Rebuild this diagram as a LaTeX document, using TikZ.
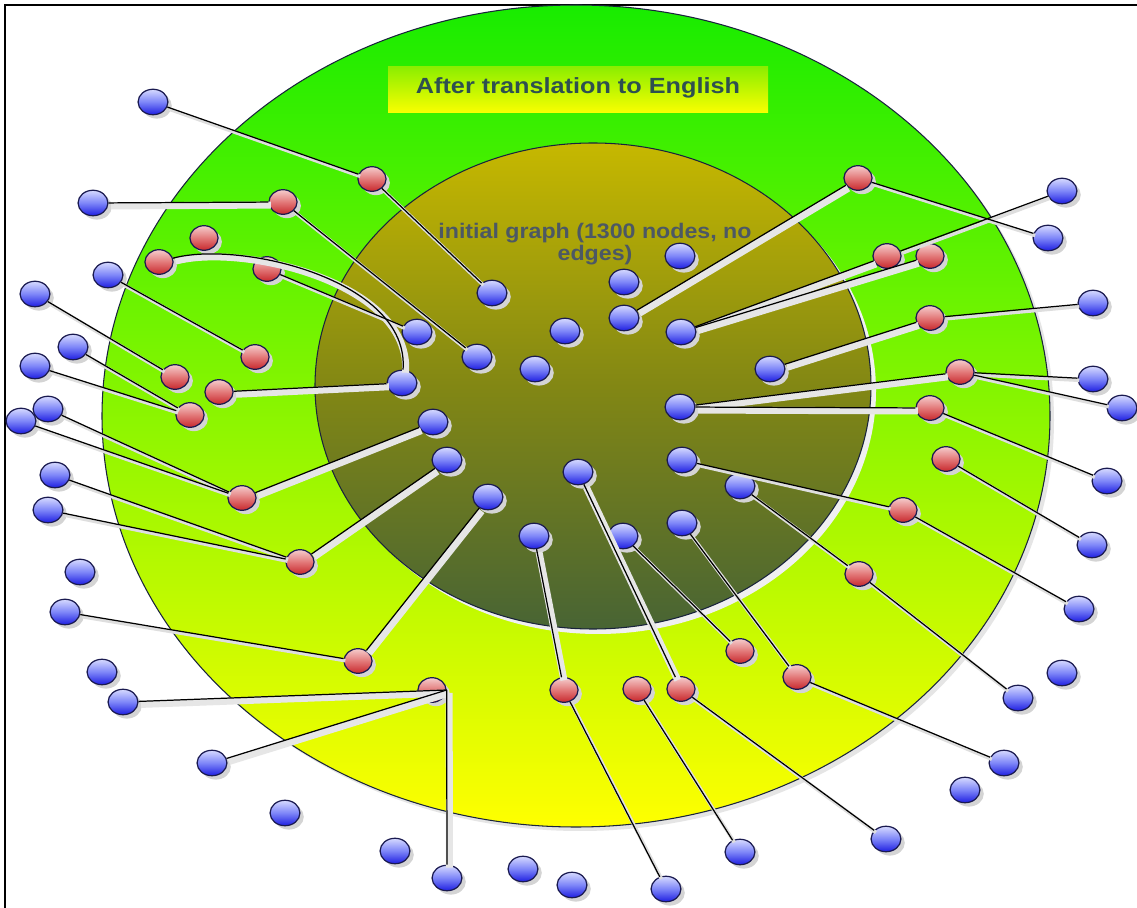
\documentclass[tikz,border=0pt]{standalone}
\usepackage{fontspec}
\usepackage{graphicx}
\setmainfont{Liberation Sans}
\usetikzlibrary{shapes.geometric,shadows}

\definecolor{ringtop}{RGB}{24,236,0}
\definecolor{ringbot}{RGB}{255,255,0}
\definecolor{coretop}{RGB}{198,184,0}
\definecolor{coremid}{RGB}{130,135,20}
\definecolor{corebot}{RGB}{72,100,52}
\definecolor{ringline}{RGB}{25,35,60}
\definecolor{boxtop}{RGB}{140,238,0}
\definecolor{boxbot}{RGB}{250,255,0}
\definecolor{titletext}{RGB}{46,80,80}
\definecolor{coretext}{RGB}{76,88,100}
\definecolor{bluetop}{RGB}{214,218,255}
\definecolor{bluemid}{RGB}{125,133,248}
\definecolor{bluebot}{RGB}{30,30,225}
\definecolor{redtop}{RGB}{245,205,205}
\definecolor{redmid}{RGB}{226,120,120}
\definecolor{redbot}{RGB}{200,40,45}
\definecolor{ballline}{RGB}{26,26,80}
\definecolor{edgeline}{RGB}{0,0,0}
\definecolor{edgeshade}{RGB}{222,222,222}
\definecolor{bandshade}{RGB}{230,230,230}
\definecolor{ballshade}{RGB}{212,212,212}

\tikzset{
  ball/.style={ellipse, inner sep=0pt, draw=ballline, line width=0.7pt,
    drop shadow={shadow xshift=2.2pt, shadow yshift=-2.2pt, fill=ballshade, opacity=1}},
  bn/.style={ball, minimum width=17pt, minimum height=14.5pt,
    top color=bluetop, bottom color=bluebot, middle color=bluemid},
  rn/.style={ball, minimum width=16pt, minimum height=14pt,
    top color=redtop, bottom color=redbot, middle color=redmid},
  wireshade/.style={draw=edgeshade, line width=2pt, transform canvas={xshift=1pt, yshift=-1.2pt}},
  bandshade/.style={draw=bandshade, line width=4pt, transform canvas={xshift=1.4pt, yshift=-1.7pt}},
  edgestroke/.style={draw=edgeline, line width=0.7pt},
}

\begin{document}
\begin{tikzpicture}[x=0.02cm, y=-0.02cm]
\useasboundingbox (0,0) rectangle (1137,908);

% frame, rings and title panel
\fill[white] (0,0) rectangle (1137,908);
\draw[black, line width=1.2pt] (5,908) -- (5,5) -- (1137,5);
\fill[black!10] (580,420) ellipse [x radius=474, y radius=411];
\shade[top color=ringtop, bottom color=ringbot, draw=ringline, line width=0.6pt]
  (576,416) ellipse [x radius=474, y radius=411];
\fill[black!6] (598,391) ellipse [x radius=278, y radius=243];
\shade[top color=coretop, bottom color=corebot, middle color=coremid, draw=ringline, line width=0.6pt]
  (593,386) ellipse [x radius=278, y radius=243];
\shade[top color=boxtop, bottom color=boxbot] (388,67) rectangle (768,113);

\node[text=titletext, font=\bfseries\fontsize{12.5}{15}\selectfont] (title) at (578,88)
  {\scalebox{1.15}[1]{After translation to English}};
\node[text=coretext, font=\bfseries\fontsize{12}{12.6}\selectfont] (core) at (595,245)
  {\scalebox{1.1}[1]{\begin{tabular}{@{}c@{}}initial graph (1300 nodes, no\\[-0.5pt]edges)\end{tabular}}};

% outer blue nodes
\node[bn] (B1) at (153,102) {};
\node[bn] (B2) at (93,203) {};
\node[bn] (B3) at (108,275) {};
\node[bn] (B4) at (35,294) {};
\node[bn] (B5) at (73,347) {};
\node[bn] (B6) at (35,366) {};
\node[bn] (B7) at (21,421) {};
\node[bn] (B8) at (48,409) {};
\node[bn] (B9) at (55,475) {};
\node[bn] (B10) at (48,510) {};
\node[bn] (B11) at (80,572) {};
\node[bn] (B12) at (65,612) {};
\node[bn] (B13) at (102,672) {};
\node[bn] (B14) at (123,702) {};
\node[bn] (B15) at (212,763) {};
\node[bn] (B16) at (285,813) {};
\node[bn] (B17) at (395,851) {};
\node[bn] (B18) at (447,878) {};
\node[bn] (B19) at (523,869) {};
\node[bn] (B20) at (572,885) {};
\node[bn] (B21) at (666,889) {};
\node[bn] (B22) at (740,852) {};
\node[bn] (B23) at (886,839) {};
\node[bn] (B24) at (965,790) {};
\node[bn] (B25) at (1004,763) {};
\node[bn] (B26) at (1018,698) {};
\node[bn] (B27) at (1062,673) {};
\node[bn] (B28) at (1079,609) {};
\node[bn] (B29) at (1092,545) {};
\node[bn] (B30) at (1107,481) {};
\node[bn] (B31) at (1122,408) {};
\node[bn] (B32) at (1093,379) {};
\node[bn] (B33) at (1093,303) {};
\node[bn] (B34) at (1048,238) {};
\node[bn] (B35) at (1062,191) {};

% inner blue nodes
\node[bn] (I1) at (492,293) {};
\node[bn] (I2) at (417,332) {};
\node[bn] (I3) at (477,357) {};
\node[bn] (I4) at (535,369) {};
\node[bn] (I5) at (565,331) {};
\node[bn] (I6) at (624,282) {};
\node[bn] (I7) at (680,256) {};
\node[bn] (I8) at (624,318) {};
\node[bn] (I9) at (681,332) {};
\node[bn] (I10) at (770,369) {};
\node[bn] (I11) at (402,383) {};
\node[bn] (I12) at (433,422) {};
\node[bn] (I13) at (447,460) {};
\node[bn] (I14) at (488,497) {};
\node[bn] (I15) at (534,536) {};
\node[bn] (I16) at (578,472) {};
\node[bn] (I17) at (623,536) {};
\node[bn] (I18) at (682,523) {};
\node[bn] (I19) at (682,460) {};
\node[bn] (I20) at (740,486) {};
\node[bn] (I21) at (680,407) {};

% red nodes
\node[rn] (R1) at (372,179) {};
\node[rn] (R2) at (283,202) {};
\node[rn] (R3) at (204,238) {};
\node[rn] (R4) at (159,262) {};
\node[rn] (R5) at (267,269) {};
\node[rn] (R6) at (255,357) {};
\node[rn] (R7) at (175,377) {};
\node[rn] (R8) at (219,392) {};
\node[rn] (R9) at (190,415) {};
\node[rn] (R10) at (242,498) {};
\node[rn] (R11) at (300,562) {};
\node[rn] (R12) at (358,661) {};
\node[rn] (R13) at (432,690) {};
\node[rn] (R14) at (564,690) {};
\node[rn] (R15) at (637,689) {};
\node[rn] (R16) at (681,689) {};
\node[rn] (R17) at (740,651) {};
\node[rn] (R18) at (797,677) {};
\node[rn] (R19) at (859,574) {};
\node[rn] (R20) at (903,510) {};
\node[rn] (R21) at (946,459) {};
\node[rn] (R22) at (930,408) {};
\node[rn] (R23) at (960,372) {};
\node[rn] (R24) at (930,318) {};
\node[rn] (R25) at (887,256) {};
\node[rn] (R26) at (930,256) {};
\node[rn] (R27) at (858,178) {};

% connectors: light shadow strokes first, dark strokes on top
\def\wirelist{B1/R1, R1/I1, R2/I3, R5/I2, B3/R6, B4/R7, B5/R9, B6/R9,
  B8/R10, B7/R10, B9/R11, B10/R11, B12/R12, R14/B21, R15/B22, R16/B23,
  I17/R17, I18/R18, R18/B25, I20/R19, R19/B26, I19/R20, R20/B28,
  R21/B29, R22/B30, R23/B32, R23/B31, R24/B33, R25/B35, R27/B34}
\def\bandlist{B2/R2, R8/I11, R10/I12, R11/I13, R12/I14, B14/R13.east,
  B15/R13.east, R13.east/B18, I15/R14, I16/R16, R22/I21, R23/I21,
  R24/I10, R25/I9, R26/I9, R27/I8}

\foreach \a/\b in \wirelist { \draw[wireshade] (\a) -- (\b); }
\foreach \a/\b in \bandlist { \draw[bandshade] (\a) -- (\b); }
\draw[bandshade] (R4) .. controls (240,240) and (410,280) .. (I11);
\foreach \a/\b in \wirelist { \draw[edgestroke] (\a) -- (\b); }
\foreach \a/\b in \bandlist { \draw[edgestroke] (\a) -- (\b); }
\draw[edgestroke] (R4) .. controls (240,240) and (410,280) .. (I11);
\end{tikzpicture}
\end{document}
